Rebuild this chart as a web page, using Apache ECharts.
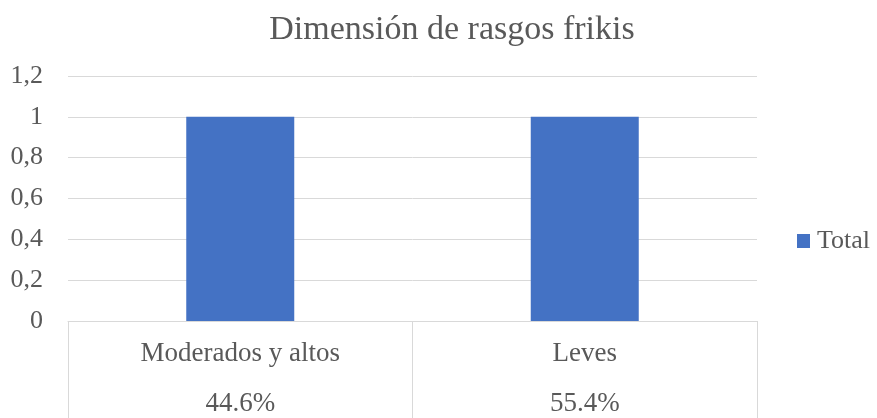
<!DOCTYPE html>
<html>
<head>
<meta charset="utf-8">
<script src="https://cdn.jsdelivr.net/npm/echarts@6/dist/echarts.min.js"></script>
<style>
  html, body { margin: 0; padding: 0; background: #fff; }
  #chart { width: 877px; height: 418px; }
</style>
</head>
<body>
<div id="chart"></div>
<script>
// datos del grafico
var categorias = ['Moderados y altos', 'Leves'];
var porcentajes = ['44.6%', '55.4%'];
var valoresTotal = [1, 1];
var nombreSerie = 'Total';
var titulo = 'Dimensión de rasgos frikis';

var fuente = '"Liberation Serif", "Times New Roman", serif';
var gris = '#595959';

var myChart = echarts.init(document.getElementById('chart'));

var option = {
    animation: false,
    title: {
        text: titulo,
        left: 447,
        top: 8,
        textAlign: 'center',
        textStyle: { fontFamily: fuente, fontSize: 34, fontWeight: 'normal', color: gris }
    },
    legend: {
        data: [nombreSerie],
        orient: 'vertical',
        left: 792,
        top: 223,
        itemWidth: 13,
        itemHeight: 14,
        itemGap: 6,
        icon: 'rect',
        textStyle: { fontFamily: fuente, fontSize: 26, color: gris, padding: [0, 0, 0, 2] }
    },
    grid: {
        left: 68,
        right: 120,
        top: 76,
        bottom: 97,
        containLabel: false
    },
    xAxis: {
        type: 'category',
        data: categorias,
        boundaryGap: true,
        axisLine: { show: true, lineStyle: { color: '#d9d9d9', width: 1 } },
        axisTick: { show: true, interval: 0, alignWithLabel: false, length: 100, lineStyle: { color: '#d9d9d9', width: 1 } },
        axisLabel: {
            interval: 0,
            margin: 8,
            formatter: function (value, idx) {
                return '{a|' + value + '}\n{a|' + porcentajes[idx] + '}';
            },
            rich: {
                a: { fontFamily: fuente, fontSize: 27, color: gris, lineHeight: 50 }
            }
        }
    },
    yAxis: {
        type: 'value',
        min: 0,
        max: 1.2,
        interval: 0.2,
        axisLine: { show: false },
        axisTick: { show: false },
        splitLine: { lineStyle: { color: '#d9d9d9', width: 1 } },
        axisLabel: {
            margin: 25,
            fontFamily: fuente,
            fontSize: 26,
            color: gris,
            formatter: function (v) {
                return String(Math.round(v * 10) / 10).replace('.', ',');
            }
        }
    },
    series: [
        {
            name: nombreSerie,
            type: 'bar',
            data: valoresTotal,
            barWidth: 108,
            itemStyle: { color: '#4472c4' }
        }
    ]
};

myChart.setOption(option);
</script>
</body>
</html>
